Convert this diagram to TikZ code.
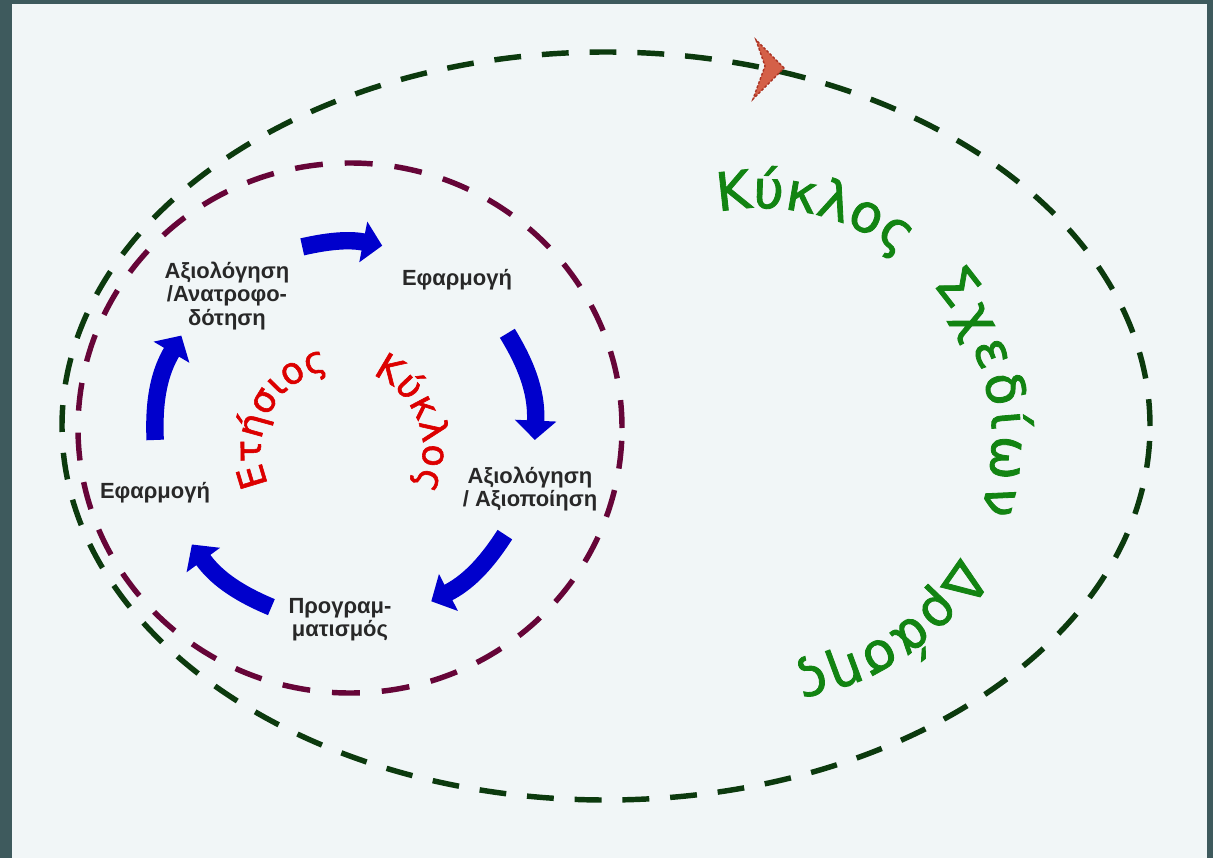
\documentclass[tikz,border=0pt]{standalone}
\usepackage{fontspec}
\setmainfont{Liberation Sans}
\newfontfamily\arcfont{DejaVu Sans}[FakeBold=1.6]
\usepackage{xcolor}
\usepackage{tikz}
\usetikzlibrary{arrows.meta,decorations.text}

\definecolor{framegray}{RGB}{62,90,93}
\definecolor{paper}{RGB}{241,246,247}
\definecolor{outergreen}{RGB}{12,58,14}
\definecolor{innermaroon}{RGB}{102,5,56}
\definecolor{cycleblue}{RGB}{0,0,204}
\definecolor{labelgray}{RGB}{40,40,40}
\definecolor{yearred}{RGB}{220,0,0}
\definecolor{plangreen}{RGB}{18,132,18}
\definecolor{markfill}{RGB}{212,96,72}
\definecolor{markedge}{RGB}{170,50,35}

\begin{document}
\begin{tikzpicture}[x=0.02cm, y=0.02cm,
    phase/.style={font=\bfseries\fontsize{12.5}{13.2}\selectfont, text=labelgray, align=center, inner sep=0pt},
    blockarrow/.style={draw=cycleblue, line width=9.9pt, -{Triangle[length=11pt,width=23pt]}},
    outerloop/.style={draw=outergreen, line width=3.1pt, dash pattern=on 15.3pt off 11.9pt},
    innerloop/.style={draw=innermaroon, line width=3.1pt, dash pattern=on 15.9pt off 12.5pt}]
    %\draw[step=50,gray,very thin] (0,-858) grid (1213,0);
    \useasboundingbox (0,0) rectangle (1213,-858);
    \fill[framegray] (0,0) rectangle (1213,-858);
    \fill[paper] (12,-4) rectangle (1207,-858);

    % the two dashed loops
    \draw[outerloop] (606,-426) ellipse [x radius=544, y radius=374];
    \draw[innerloop] (350,-428) ellipse [x radius=272, y radius=265];

    % marker on the outer loop
    \fill[markfill, draw=markedge, line width=0.8pt, dash pattern=on 1.5pt off 1pt]
      (784,-68) -- (756,-40) -- (765,-66) -- (753,-99) -- cycle;

    % phases of the yearly cycle
    \node[phase] (feedback) at (227,-296) {Αξιολόγηση\\/Ανατροφο-\\δότηση};
    \node[phase] (applyA) at (457,-280) {Εφαρμογή};
    \node[phase] (review) at (530,-489) {Αξιολόγηση\\/ Αξιοποίηση};
    \node[phase] (planning) at (340,-620) {Προγραμ-\\ματισμός};
    \node[phase] (applyB) at (155,-493) {Εφαρμογή};

    \coordinate (hub) at (345,-432);
    \path (hub) ++(103:190) coordinate (t1) (hub) ++(78.7:190) coordinate (h1);
    \path (hub) ++(31.3:190) coordinate (t2) (hub) ++(-2.4:190) coordinate (h2);
    \path (hub) ++(-32.7:190) coordinate (t3) (hub) ++(-63:190) coordinate (h3);
    \path (hub) ++(-112.8:190) coordinate (t4) (hub) ++(-143.7:190) coordinate (h4);
    \path (hub) ++(182.4:190) coordinate (t5) (hub) ++(149.5:190) coordinate (h5);

    \draw[blockarrow] (t1) to[bend left=12] (h1);
    \draw[blockarrow] (t2) to[bend left=17] (h2);
    \draw[blockarrow] (t3) to[bend left=15] (h3);
    \draw[blockarrow] (t4) to[bend left=15.5] (h4);
    \draw[blockarrow] (t5) to[bend left=16.5] (h5);

    % curved titles
    \coordinate (yearhub) at (342,-450);
    \path[decorate, decoration={text along path, text align={fit to path},
      text={|\arcfont\fontsize{21}{21}\selectfont\color{yearred}|Ετήσιος}}]
      (yearhub) ++(205:81) arc [start angle=205, end angle=101, radius=81];
    \path[decorate, decoration={text along path, text align={fit to path},
      text={|\arcfont\fontsize{21}{21}\selectfont\color{yearred}|Κύκλος}}]
      (yearhub) ++(68:81) arc [start angle=68, end angle=-27, radius=81];

    \coordinate (planhub) at (760,-440);
    \path[decorate, decoration={text along path, text align={fit to path},
      text={|\arcfont\fontsize{30}{30}\selectfont\color{plangreen}|Κύκλος}}]
      (planhub) ++(100.4:232) arc [start angle=100.4, end angle=52.8, radius=232];
    \path[decorate, decoration={text along path, text align={fit to path},
      text={|\arcfont\fontsize{30}{30}\selectfont\color{plangreen}|Σχεδίων}}]
      (planhub) ++(42:232) arc [start angle=42, end angle=-18, radius=232];
    \path[decorate, decoration={text along path, text align={fit to path},
      text={|\arcfont\fontsize{30}{30}\selectfont\color{plangreen}|Δράσης}}]
      (planhub) ++(-30.4:232) arc [start angle=-30.4, end angle=-81.7, radius=232];
\end{tikzpicture}
\end{document}
